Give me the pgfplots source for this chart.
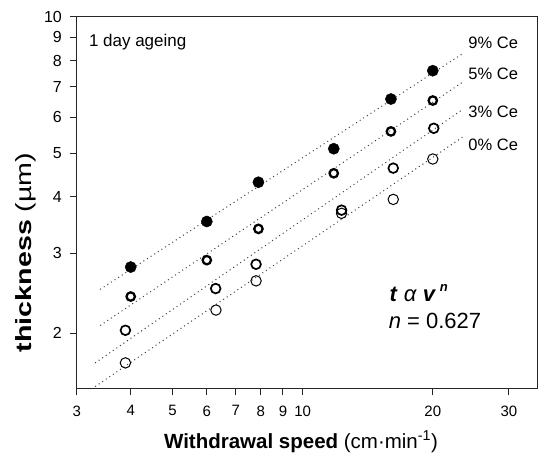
\documentclass[border=0pt]{standalone}
\usepackage{pgfplots}
\pgfplotsset{compat=1.18}
\usepackage{fontspec}
\setmainfont{Liberation Sans}
\begin{document}
\begin{tikzpicture}
\begin{axis}[
  at={(0,0)}, anchor=south west,
  scale only axis, width=460.6bp, height=371.8bp,
  xmode=log, ymode=log,
  xmin=3, xmax=34.9, ymin=1.51, ymax=10,
  xtick={3,4,5,6,7,8,9,10,20,30},
  xticklabels={3,4,5,6,7,8,9,10,20,30},
  ytick={2,3,4,5,6,7,8,9,10},
  yticklabels={2,3,4,5,6,7,8,9,10},
  xminorticks=false, yminorticks=false,
  tick pos=left, tick align=outside,
  major tick length=7bp,
  axis line style={line width=1bp, black!85},
  every tick/.style={line width=1bp, black!85},
  /pgf/number format/assume math mode=true,
  xticklabel style={font=\fontsize{15bp}{18bp}\selectfont, inner sep=0pt, anchor=north, yshift=-9.9bp},
  yticklabel style={font=\fontsize{16bp}{19bp}\selectfont, inner sep=0pt, anchor=east, xshift=-7.7bp},
  xlabel={\textbf{Withdrawal speed} (cm·min\textsuperscript{-1})},
  xlabel style={font=\fontsize{20.5bp}{24bp}\selectfont, inner sep=0pt, at={(axis description cs:0.487,0)}, anchor=base, yshift=-59.8bp},
]
% fitted dotted lines
\addplot[no marks, black!75, line width=1bp, dash pattern=on 1bp off 3.3bp] coordinates {(3.40,2.50) (23.5,8.30)};
\addplot[no marks, black!75, line width=1bp, dash pattern=on 1bp off 3.3bp] coordinates {(3.40,2.08) (23.5,7.18)};
\addplot[no marks, black!75, line width=1bp, dash pattern=on 1bp off 3.3bp] coordinates {(3.31,1.72) (23.5,6.25)};
\addplot[no marks, black!75, line width=1bp, dash pattern=on 1bp off 3.3bp] coordinates {(3.31,1.525) (23.5,5.43)};
% 9% Ce
\addplot[only marks, mark=*, mark size=5.6bp, mark options={fill=black, draw=black}] coordinates {
(4,2.80) (6,3.53) (7.9,4.31) (11.8,5.11) (16,6.58) (20,7.60)};
% 5% Ce
\addplot[only marks, mark=o, mark size=4.2bp, mark options={draw=black, line width=2.3bp}] coordinates {
(4,2.41) (6,2.90) (7.9,3.40) (11.8,4.51) (16,5.58) (20,6.53)};
% 3% Ce
\addplot[only marks, mark=o, mark size=4.85bp, mark options={draw=black, line width=1.7bp}] coordinates {
(3.89,2.03) (6.29,2.51) (7.8,2.84) (12.3,3.74) (16.2,4.63) (20.1,5.67)};
% 0% Ce
\addplot[only marks, mark=o, mark size=5.2bp, mark options={draw=black, line width=1bp}] coordinates {
(3.89,1.72) (6.3,2.25) (7.8,2.61) (12.3,3.68) (16.2,3.95) (20,4.85)};
\node[anchor=base west, inner sep=0pt, font=\fontsize{16.5bp}{20bp}\selectfont] at (axis cs:24.16,8.52) {9\% Ce};
\node[anchor=base west, inner sep=0pt, font=\fontsize{16.5bp}{20bp}\selectfont] at (axis cs:24.16,7.28) {5\% Ce};
\node[anchor=base west, inner sep=0pt, font=\fontsize{16.5bp}{20bp}\selectfont] at (axis cs:24.16,5.99) {3\% Ce};
\node[anchor=base west, inner sep=0pt, font=\fontsize{16.5bp}{20bp}\selectfont] at (axis cs:24.16,5.06) {0\% Ce};
\node[anchor=base west, inner sep=0pt, font=\fontsize{17bp}{20bp}\selectfont] at (axis cs:3.20,8.61) {1 day ageing};
\node[anchor=base west, inner sep=0pt, font=\fontsize{22bp}{26bp}\selectfont] at (axis cs:15.87,2.35) {\textbf{\textit{t}} \textit{α} \textbf{\textit{v}}\,\raisebox{0.45em}{\fontsize{13bp}{15bp}\selectfont\textbf{\textit{n}}}};
\node[anchor=base west, inner sep=0pt, font=\fontsize{22bp}{26bp}\selectfont] at (axis cs:15.8,2.045) {\textit{n} = 0.627};
\end{axis}
\node[anchor=base, inner sep=0pt, font=\fontsize{22bp}{26bp}\selectfont, rotate=90, xscale=1.3] at (-45bp,136.1bp) {\textbf{thickness} (µm)};
\pgfresetboundingbox
\path[use as bounding box] (-76.7bp,-65.5bp) rectangle (461.3bp,388.5bp);
\end{tikzpicture}
\end{document}
